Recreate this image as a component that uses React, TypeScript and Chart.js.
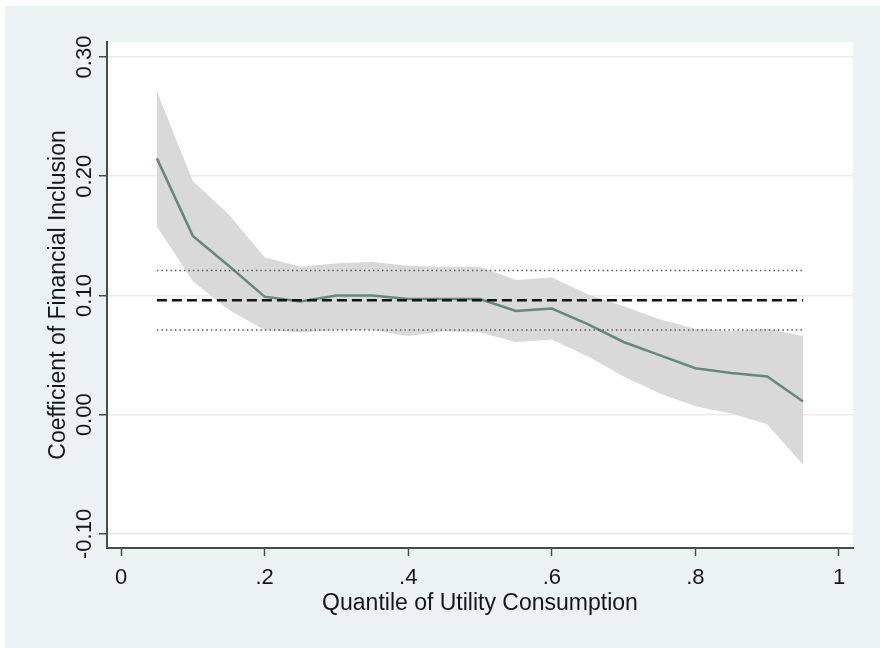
import React, { useEffect, useRef } from "react";
import { Chart, registerables } from "chart.js";

Chart.register(...registerables);

// ---- data ----
const quantiles = [0.05, 0.1, 0.15, 0.2, 0.25, 0.3, 0.35, 0.4, 0.45, 0.5, 0.55, 0.6, 0.65, 0.7, 0.75, 0.8, 0.85, 0.9, 0.95];
const coefficients = [0.215, 0.15, 0.125, 0.099, 0.095, 0.1, 0.1, 0.097, 0.097, 0.097, 0.087, 0.089, 0.076, 0.061, 0.05, 0.039, 0.035, 0.032, 0.011];
const ciUpper = [0.271, 0.196, 0.168, 0.132, 0.124, 0.127, 0.128, 0.125, 0.124, 0.124, 0.113, 0.115, 0.101, 0.091, 0.08, 0.072, 0.07, 0.072, 0.066];
const ciLower = [0.158, 0.112, 0.088, 0.071, 0.069, 0.071, 0.071, 0.066, 0.07, 0.069, 0.061, 0.063, 0.049, 0.032, 0.018, 0.007, 0.001, -0.008, -0.042];
const olsCoef = 0.096;
const olsUpper = 0.121;
const olsLower = 0.071;

const xTickValues = [0, 0.2, 0.4, 0.6, 0.8, 1];
const xTickLabels = ["0", ".2", ".4", ".6", ".8", "1"];
const yTickValues = [-0.1, 0, 0.1, 0.2, 0.3];
const yTickLabels = ["-0.10", "0.00", "0.10", "0.20", "0.30"];
const xRange = [-0.0195, 1.0195];
const yRange = [-0.1118, 0.3126];
const xTitle = "Quantile of Utility Consumption";
const yTitle = "Coefficient of Financial Inclusion";

const FONT = '"Liberation Sans", Arial, Helvetica, sans-serif';
const TEXT_COLOR = "#161616";

const bgPlugin = {
  id: "bgPlugin",
  beforeDraw(chart: any) {
    const { ctx, width, height, chartArea } = chart;
    ctx.save();
    ctx.fillStyle = "#ffffff";
    ctx.fillRect(0, 0, width, height);
    ctx.fillStyle = "#eaf2f3";
    ctx.fillRect(5, 6, width - 5, height - 6);
    ctx.fillStyle = "#ffffff";
    ctx.fillRect(chartArea.left, chartArea.top, chartArea.right - chartArea.left, chartArea.bottom - chartArea.top);
    ctx.restore();
  },
};

const labelPlugin = {
  id: "labelPlugin",
  afterDraw(chart: any) {
    const { ctx, chartArea } = chart;
    const xs = chart.scales.x;
    const ys = chart.scales.y;
    ctx.save();
    ctx.fillStyle = TEXT_COLOR;
    ctx.textAlign = "center";
    ctx.textBaseline = "alphabetic";
    ctx.font = `22px ${FONT}`;
    xTickValues.forEach((v, i) => {
      ctx.fillText(xTickLabels[i], xs.getPixelForValue(v), chartArea.bottom + 36);
    });
    yTickValues.forEach((v, i) => {
      ctx.save();
      ctx.translate(chartArea.left - 16, ys.getPixelForValue(v));
      ctx.rotate(-Math.PI / 2);
      ctx.fillText(yTickLabels[i], 0, 0);
      ctx.restore();
    });
    ctx.font = `23px ${FONT}`;
    ctx.fillText(xTitle, (chartArea.left + chartArea.right) / 2, chartArea.bottom + 62);
    ctx.save();
    ctx.translate(chartArea.left - 42, (chartArea.top + chartArea.bottom) / 2);
    ctx.rotate(-Math.PI / 2);
    ctx.fillText(yTitle, 0, 0);
    ctx.restore();
    ctx.restore();
  },
};

export default function App() {
  const canvasRef = useRef<HTMLCanvasElement | null>(null);

  useEffect(() => {
    const canvas = canvasRef.current;
    if (!canvas) return;
    const first = quantiles[0];
    const last = quantiles[quantiles.length - 1];
    const hline = (y: number) => [
      { x: first, y },
      { x: last, y },
    ];
    const pts = (arr: number[]) => quantiles.map((q, i) => ({ x: q, y: arr[i] }));

    const chart = new Chart(canvas, {
      type: "line",
      data: {
        datasets: [
          {
            label: "OLS",
            data: hline(olsCoef),
            borderColor: "#141414",
            borderWidth: 2.5,
            borderDash: [10, 5],
            pointRadius: 0,
            fill: false,
            order: 0,
          },
          {
            label: "OLS upper",
            data: hline(olsUpper),
            borderColor: "#5a5a5a",
            borderWidth: 1.5,
            borderDash: [1.5, 3],
            pointRadius: 0,
            fill: false,
            order: 1,
          },
          {
            label: "OLS lower",
            data: hline(olsLower),
            borderColor: "#5a5a5a",
            borderWidth: 1.5,
            borderDash: [1.5, 3],
            pointRadius: 0,
            fill: false,
            order: 1,
          },
          {
            label: "Quantile coefficient",
            data: pts(coefficients),
            borderColor: "#628a7b",
            borderWidth: 2.5,
            pointRadius: 0,
            fill: false,
            order: 2,
          },
          {
            label: "CI lower",
            data: pts(ciLower),
            borderColor: "rgba(0,0,0,0)",
            borderWidth: 0,
            pointRadius: 0,
            fill: false,
            order: 4,
          },
          {
            label: "CI upper",
            data: pts(ciUpper),
            borderColor: "rgba(0,0,0,0)",
            backgroundColor: "#d9d9d9",
            borderWidth: 0,
            pointRadius: 0,
            fill: "-1",
            order: 3,
          },
        ],
      },
      options: {
        animation: false,
        responsive: false,
        events: [],
        layout: { padding: { left: 0, top: 42, right: 27, bottom: 0 } },
        elements: { line: { tension: 0 } },
        plugins: {
          legend: { display: false },
          tooltip: { enabled: false },
          title: { display: false },
        },
        scales: {
          x: {
            type: "linear",
            min: xRange[0],
            max: xRange[1],
            afterBuildTicks: (scale: any) => {
              scale.ticks = xTickValues.map((v) => ({ value: v }));
            },
            afterFit: (scale: any) => {
              scale.height = 100;
            },
            ticks: { display: false },
            grid: {
              drawOnChartArea: false,
              drawTicks: true,
              tickLength: 8,
              tickColor: "#4a4a4a",
              tickWidth: 1.5,
            },
            border: { display: true, color: "#4a4a4a", width: 2 },
          },
          y: {
            type: "linear",
            min: yRange[0],
            max: yRange[1],
            afterBuildTicks: (scale: any) => {
              scale.ticks = yTickValues.map((v) => ({ value: v }));
            },
            afterFit: (scale: any) => {
              scale.width = 107;
            },
            ticks: { display: false },
            grid: {
              drawOnChartArea: true,
              color: "#e8eced",
              lineWidth: 1.5,
              drawTicks: true,
              tickLength: 8,
              tickColor: "#4a4a4a",
              tickWidth: 1.5,
            },
            border: { display: true, color: "#4a4a4a", width: 2 },
          },
        },
      },
      plugins: [bgPlugin, labelPlugin],
    } as any);

    return () => {
      chart.destroy();
    };
  }, []);

  return (
    <div style={{ position: "absolute", left: 0, top: 0, width: 880, height: 648 }}>
      <canvas ref={canvasRef} width={880} height={648} style={{ display: "block", width: 880, height: 648 }} />
    </div>
  );
}
